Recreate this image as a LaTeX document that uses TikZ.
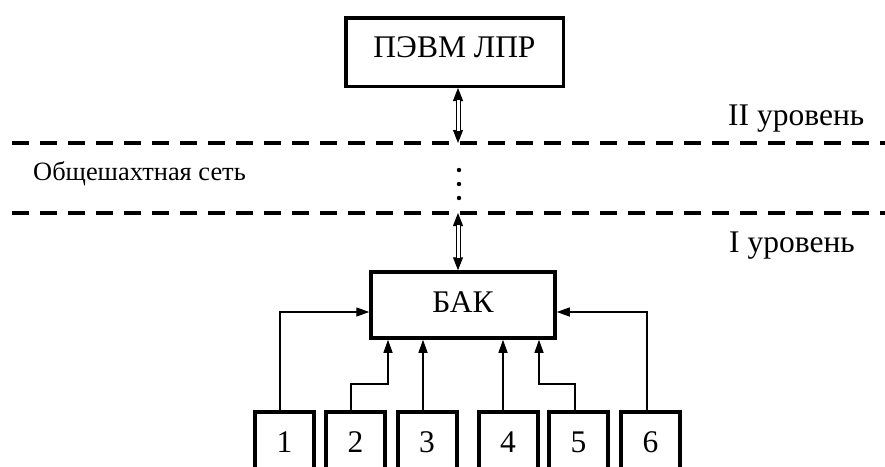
\documentclass[tikz,border=0pt]{standalone}
\usepackage{fontspec}
\setmainfont{Liberation Serif}
\usetikzlibrary{arrows.meta,calc}
\begin{document}
\begin{tikzpicture}[x=1pt,y=-1pt,
  bigbox/.style={draw,line width=3.5pt,inner sep=0pt,font=\fontsize{31.5}{33}\selectfont},
  smallbox/.style={draw,line width=4pt,inner sep=0pt,minimum width=59pt,text height=40pt,text depth=60pt,anchor=base,font=\fontsize{31.5}{33}\selectfont},
  lvl/.style={dash pattern=on 17pt off 11pt,line width=3.5pt},
  arr/.style={line width=1.3pt,-{Triangle[length=13pt,width=9pt]}},
  dbltips/.style={line width=1pt,{Triangle[length=13pt,width=10pt]}-{Triangle[length=13pt,width=10pt]}},
  dbl/.style={double,double distance=3pt,line width=1pt,shorten <=12pt,shorten >=12pt},
  lbl/.style={anchor=base west,inner sep=0pt,font=\fontsize{31.5}{33}\selectfont}]
\useasboundingbox (0,0) rectangle (885,466);
% levels
\coordinate (l1a) at (12,143); \coordinate (l1b) at (885,143);
\coordinate (l2a) at (12,213); \coordinate (l2b) at (885,213);
\draw[lvl] (l1a) -- (l1b);
\draw[lvl] (l2a) -- (l2b);
% boxes
\node[bigbox,minimum width=217.5pt,minimum height=68.5pt,text depth=10pt] (pevm) at (454.5,52) {ПЭВМ ЛПР};
\node[bigbox,minimum width=184pt,minimum height=66pt,text depth=6pt] (bak) at (463,305) {БАК};
\node[smallbox] (b1) at (284.5,452) {1};
\node[smallbox] (b2) at (355.5,452) {2};
\node[smallbox] (b3) at (427,452) {3};
\node[smallbox] (b4) at (508,452) {4};
\node[smallbox] (b5) at (578.5,452) {5};
\node[smallbox] (b6) at (650.5,452) {6};
% labels
\node[lbl] (t2) at (728,125) {II уровень};
\node[lbl] (t1) at (729,252) {I уровень};
\node[lbl,font=\fontsize{26.4}{28}\selectfont] (net) at (33,180) {Общешахтная сеть};
% double arrows
\coordinate (d1) at (458,143);
\coordinate (d2) at (458,213);
\draw[dbltips] (pevm.south -| d1) -- (d1);
\draw[dbl] (pevm.south -| d1) -- (d1);
\draw[dbltips] (d2) -- (bak.north -| d2);
\draw[dbl] (d2) -- (bak.north -| d2);
% dots
\foreach \yy in {170,184,198} \fill (459,\yy) circle (2.2pt);
% connectors
\coordinate (k1) at (280,312);
\coordinate (k2) at (388,384);
\coordinate (k5) at (539,384);
\coordinate (k6) at (647,312);
\draw[arr] (b1.north -| k1) |- (bak.west |- k1);
\draw[arr] ([xshift=-4.5pt]b2.north) |- (k2) -- (bak.south -| k2);
\draw[arr] ([xshift=-4pt]b3.north) -- (bak.south -| {$(b3.north)+(-4,0)$});
\draw[arr] ([xshift=-5pt]b4.north) -- (bak.south -| {$(b4.north)+(-5,0)$});
\draw[arr] ([xshift=-3.5pt]b5.north) |- (k5) -- (bak.south -| k5);
\draw[arr] (b6.north -| k6) |- (bak.east |- k6);
\end{tikzpicture}
\end{document}
